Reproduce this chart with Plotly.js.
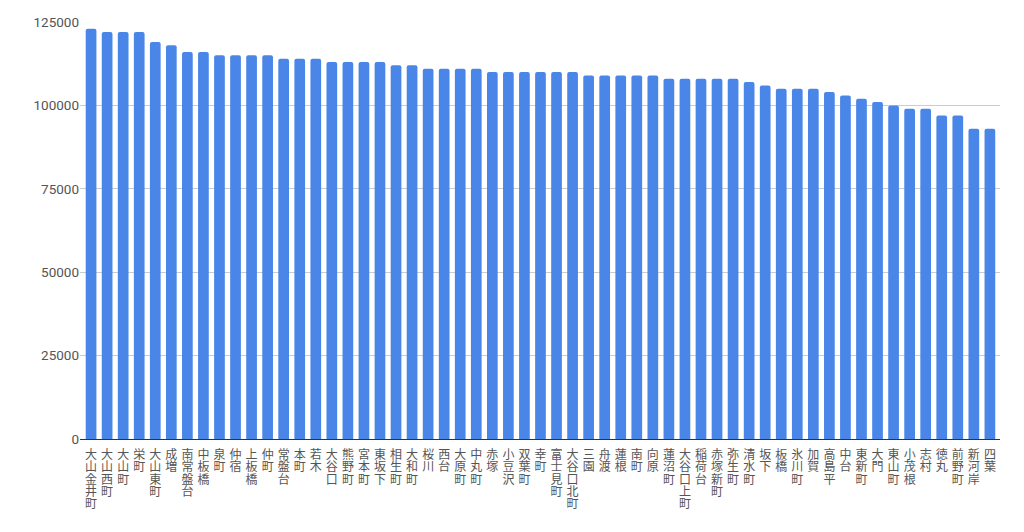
<!DOCTYPE html>
<html>
<head>
<meta charset="utf-8">
<script src="https://cdn.plot.ly/plotly-3.0.1.min.js"></script>
<style>
html,body{margin:0;padding:0;background:#fff;}
#chart{width:1024px;height:532px;}
</style>
</head>
<body>
<div id="chart"></div>
<script>
var categories = ["大山金井町","大山西町","大山町","栄町","大山東町","成増","南常盤台","中板橋","泉町","仲宿",
  "上板橋","仲町","常盤台","本町","若木","大谷口","熊野町","宮本町","東坂下","相生町",
  "大和町","桜川","西台","大原町","中丸町","赤塚","小豆沢","双葉町","幸町","富士見町",
  "大谷口北町","三園","舟渡","蓮根","南町","向原","蓮沼町","大谷口上町","稲荷台","赤塚新町",
  "弥生町","清水町","坂下","板橋","氷川町","加賀","高島平","中台","東新町","大門",
  "東山町","小茂根","志村","徳丸","前野町","新河岸","四葉"];
var values = [123000,122000,122000,122000,119000,118000,116000,116000,115000,115000,
  115000,115000,114000,114000,114000,113000,113000,113000,113000,112000,
  112000,111000,111000,111000,111000,110000,110000,110000,110000,110000,
  110000,109000,109000,109000,109000,109000,108000,108000,108000,108000,
  108000,107000,106000,105000,105000,105000,104000,103000,102000,101000,
  100000,99000,99000,97000,97000,93000,93000];
var yTicks = [0,25000,50000,75000,100000,125000];

// stack characters vertically
var tickText = categories.map(function(c){ return Array.from(c).join('<br>'); });
var idx = categories.map(function(c,i){ return i; });

var trace = {
  type: 'bar',
  x: idx,
  y: values,
  marker: {color: '#4a86e8', cornerradius: 2},
  hoverinfo: 'none'
};

var layout = {
  width: 1024, height: 532,
  margin: {l: 80, r: 24, t: 22, b: 93},
  paper_bgcolor: '#fff', plot_bgcolor: '#fff',
  bargap: 0.333,
  showlegend: false,
  xaxis: {
    range: [-0.69, 56.63],
    tickmode: 'array', tickvals: idx, ticktext: tickText,
    tickangle: 0,
    ticklabelstandoff: 7,
    showgrid: false, zeroline: false, showline: false, ticks: '',
    tickfont: {family: '"Noto Sans CJK JP", sans-serif', size: 12, color: '#555'},
    fixedrange: true
  },
  yaxis: {
    range: [0, 125000],
    tickmode: 'array', tickvals: yTicks, ticktext: yTicks.map(String),
    showgrid: true, gridcolor: '#cccccc', gridwidth: 1,
    zeroline: true, zerolinecolor: '#333333', zerolinewidth: 1,
    showline: false, ticks: '',
    tickfont: {family: 'Roboto, Arial, sans-serif', size: 13.5, color: '#555'},
    fixedrange: true
  }
};

function tightenLines(){
  var lines = document.querySelectorAll('#chart .xtick text');
  lines.forEach(function(t){
    var ts = t.querySelectorAll('tspan.line');
    ts.forEach(function(s, i){ s.setAttribute('dy', (i * 1.03) + 'em'); });
  });
}

Plotly.newPlot('chart', [trace], layout, {displayModeBar: false, staticPlot: true}).then(function(gd){
  tightenLines();
  gd.on('plotly_afterplot', tightenLines);
});
</script>
</body>
</html>
